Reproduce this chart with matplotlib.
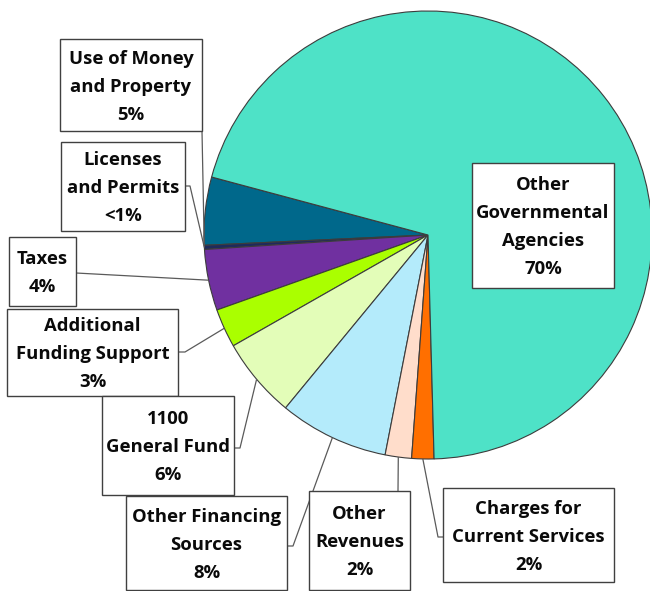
import matplotlib
matplotlib.use("Agg")
import matplotlib.pyplot as plt
from matplotlib.patches import Rectangle
import numpy as np

# Revenue sources and their shares of the total (percent)
categories = [
    "Use of Money\nand Property",
    "Licenses\nand Permits",
    "Taxes",
    "Additional\nFunding Support",
    "1100\nGeneral Fund",
    "Other Financing\nSources",
    "Other\nRevenues",
    "Charges for\nCurrent Services",
    "Other\nGovernmental\nAgencies",
]
shares = [4.9, 0.3, 4.4, 2.8, 5.8, 7.9, 1.9, 1.6, 70.4]
share_labels = ["5%", "<1%", "4%", "3%", "6%", "8%", "2%", "2%", "70%"]
colors = ["#00688B", "#1F2A5C", "#7030A0", "#AAFF00", "#E3FDB8",
          "#B4EBFB", "#FFDDCB", "#FF6F00", "#4EE2C7"]

W, H = 650, 591
fig = plt.figure(figsize=(W / 100, H / 100), dpi=100)
ax = fig.add_axes([0, 0, 1, 1])

CX, CY, R = 428, 235, 224   # pie centre / radius in pixel units (y down)


def fy(y):
    """Convert a top-down pixel row into the axes' upward y."""
    return H - y


wedges, _ = ax.pie(shares, colors=colors, startangle=165, counterclock=True,
                   center=(CX, fy(CY)), radius=R, frame=True,
                   wedgeprops=dict(edgecolor="#3c3c3c", linewidth=0.8))

# Label boxes (x0, y0, x1, y1 from top-left), leader start path, and which
# point of the wedge the leader runs to
layout = [
    dict(box=(60, 39, 202, 131), path=[(202, 131)], anchor="end"),
    dict(box=(61, 142, 185, 231), path=[(185, 186), (190, 186)], anchor="mid"),
    dict(box=(9, 237, 76, 306), path=[(76, 273)], anchor="mid"),
    dict(box=(7, 309, 178, 396), path=[(178, 352), (185, 352)], anchor="mid"),
    dict(box=(102, 396, 234, 495), path=[(234, 448), (240, 448)], anchor="mid"),
    dict(box=(126, 496, 287, 590), path=[(287, 546), (293, 546)], anchor="mid"),
    dict(box=(309, 491, 410, 590), path=[(398, 491)], anchor="mid"),
    dict(box=(443, 488, 614, 582), path=[(443, 537), (438, 537)], anchor="mid"),
    dict(box=(472, 163, 614, 288), path=None, anchor=None),
]

FONT = ["Open Sans", "DejaVu Sans"]
FS = 13.3
LINE_PX = 28
font_px = FS / 72 * 100

for wedge, cat, pct, spec in zip(wedges, categories, share_labels, layout):
    # leader line from the box to the slice edge
    if spec["path"] is not None:
        if spec["anchor"] == "end":
            ang = np.deg2rad(wedge.theta2)
        else:
            ang = np.deg2rad((wedge.theta1 + wedge.theta2) / 2)
        ex = CX + R * np.cos(ang)
        ey = fy(CY) + R * np.sin(ang)
        xs = [p[0] for p in spec["path"]] + [ex]
        ys = [fy(p[1]) for p in spec["path"]] + [ey]
        ax.plot(xs, ys, color="#5a5a5a", linewidth=0.9, zorder=3,
                solid_capstyle="butt")

    x0, y0, x1, y1 = spec["box"]
    ax.add_patch(Rectangle((x0, fy(y1)), x1 - x0, y1 - y0, facecolor="white",
                           edgecolor="#404040", linewidth=1.0, zorder=4))
    lines = cat.split("\n") + [pct]
    n = len(lines)
    xc = (x0 + x1) / 2
    yc = (y0 + y1) / 2
    for i, line in enumerate(lines):
        ly = yc + (i - (n - 1) / 2) * LINE_PX + 0.36 * font_px
        ax.text(xc, fy(ly), line, ha="center", va="baseline",
                fontsize=FS, fontweight="bold", family=FONT,
                color="#0a0a0a", zorder=5)

ax.set_xlim(0, W)
ax.set_ylim(0, H)
ax.set_aspect("equal")
ax.axis("off")

fig.savefig("out.png", dpi=100, facecolor="white")
